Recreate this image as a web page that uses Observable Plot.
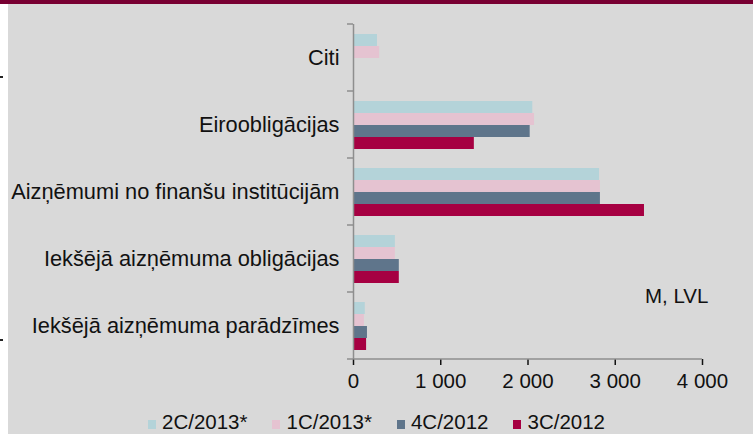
<!DOCTYPE html>
<html>
<head>
<meta charset="utf-8">
<script src="https://cdn.jsdelivr.net/npm/d3@7"></script>
<script src="https://cdn.jsdelivr.net/npm/@observablehq/plot@0.6"></script>
<style>
  html, body { margin: 0; padding: 0; background: #ffffff; }
  #wrap { position: relative; width: 753px; height: 434px; background: #d9d9d9; overflow: hidden;
          font-family: "Liberation Sans", Arial, sans-serif; color: #111; }
  #topbar { position: absolute; left: 0; top: 0; width: 753px; height: 4px; background: #780032; }
  #strip { position: absolute; left: 0; top: 4px; width: 8px; height: 430px; background: #ffffff; }
  .mark1 { position: absolute; left: 0; width: 3px; height: 2px; background: #222; }
  #chart { position: absolute; left: 0; top: 0; }
  #unit { position: absolute; left: 645px; top: 284px; font-size: 20.5px; line-height: 24px; }
  #legend { position: absolute; left: 0; width: 753px; top: 410px; display: flex; justify-content: center;
            gap: 25px; font-size: 20.5px; line-height: 24px; }
  #legend .item { display: flex; align-items: center; }
  #legend .sw { width: 8px; height: 9px; margin-right: 6px; margin-top: 5px; }
  g[aria-label="fy-axis tick label"] { font-size: 21.8px; }
</style>
</head>
<body>
<div id="wrap">
  <div id="topbar"></div>
  <div id="strip"></div>
  <div class="mark1" style="top:76px"></div>
  <div class="mark1" style="top:339px"></div>
  <div id="chart"></div>
  <div id="unit">M, LVL</div>
  <div id="legend"></div>
</div>
<script>
const categories = [
  "Citi",
  "Eiroobligācijas",
  "Aizņēmumi no finanšu institūcijām",
  "Iekšējā aizņēmuma obligācijas",
  "Iekšējā aizņēmuma parādzīmes"
];
const series = ["2C/2013*", "1C/2013*", "4C/2012", "3C/2012"];
const colors = ["#b4d3d9", "#e5c3d1", "#5f758b", "#a60042"];
// values per series, in category order
const v2C2013 = [275, 2055, 2820, 480, 135];
const v1C2013 = [300, 2075, 2830, 480, 125];
const v4C2012 = [0, 2025, 2830, 525, 160];
const v3C2012 = [0, 1385, 3335, 525, 150];
const xTicks = [0, 1000, 2000, 3000, 4000];

const valuesBySeries = [v2C2013, v1C2013, v4C2012, v3C2012];
const data = [];
categories.forEach((c, i) => {
  series.forEach((s, j) => data.push({category: c, series: s, value: valuesBySeries[j][i]}));
});

const fmt = d3.formatLocale({decimal: ",", thousands: " ", grouping: [3], currency: ["", ""]}).format(",");

const chart = Plot.plot({
  width: 753,
  height: 400,
  marginLeft: 353,
  marginRight: 51,
  marginTop: 24,
  marginBottom: 41,
  style: {background: "transparent", fontFamily: "'Liberation Sans', Arial, sans-serif", fontSize: "20.5px", color: "#111"},
  x: {domain: [0, 4000], ticks: xTicks, tickFormat: fmt, tickSize: 6, tickPadding: 8, label: null},
  y: {domain: series, paddingInner: 0, paddingOuter: 0.68, axis: null},
  fy: {domain: categories, padding: 0, axis: "left", tickSize: 0, tickPadding: 14, label: null},
  color: {domain: series, range: colors},
  marks: [
    Plot.barX(data, {x: "value", y: "series", fy: "category", fill: "series", insetTop: 0, insetBottom: 0}),
    Plot.ruleX([0], {stroke: "#8e8e8e", strokeWidth: 1.5})
  ]
});

// grey axis styling
d3.select(chart).selectAll('g[aria-label="x-axis tick"]').attr("stroke", "#8e8e8e").attr("stroke-width", 1.5);

// boundary ticks and baseline from the library's scales
const fy = chart.scale("fy");
const x = chart.scale("x");
const x0 = x.apply(0), x1 = x.apply(4000);
const bw = fy.bandwidth;
const bounds = categories.map(c => fy.apply(c));
const yBottom = fy.apply(categories[categories.length - 1]) + bw;
bounds.push(yBottom);
const g = d3.select(chart).append("g").attr("stroke", "#8e8e8e").attr("stroke-width", 1.5);
bounds.forEach(b => g.append("line").attr("x1", x0 - 6).attr("x2", x0).attr("y1", b).attr("y2", b));
g.append("line").attr("x1", x0).attr("x2", x1).attr("y1", yBottom).attr("y2", yBottom);

document.getElementById("chart").appendChild(chart);

const legend = d3.select("#legend");
series.forEach((s, i) => {
  const it = legend.append("div").attr("class", "item");
  it.append("div").attr("class", "sw").style("background", colors[i]);
  it.append("span").text(s);
});
</script>
</body>
</html>
